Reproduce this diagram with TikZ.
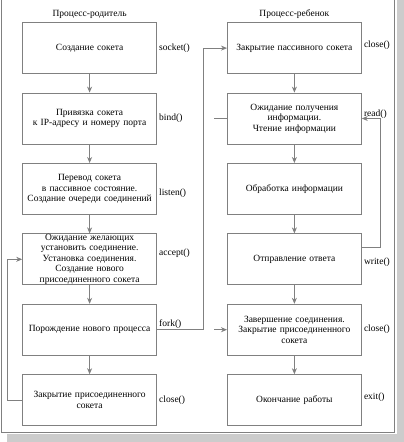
\documentclass[tikz,border=0pt]{standalone}
\usepackage{fontspec}
\setmainfont{Liberation Serif}
\usepackage{tikz}
\usetikzlibrary{positioning}
\usetikzlibrary{arrows.meta}
\usepackage{xcolor}
\definecolor{framegray}{gray}{0.5}
\definecolor{shadowgray}{gray}{0.8}

\begin{document}
\begin{tikzpicture}[x=1pt,y=-1pt,
        box/.style={draw=framegray,line width=.8pt,rectangle,minimum height=51pt,
            text width=128pt,inner xsep=3pt,inner ysep=0pt,align=center,
            font=\fontsize{9.5}{10.5}\selectfont},
        every label/.style={overlay,font=\fontsize{9.5}{10.5}\selectfont,inner sep=2pt},
        flow/.style={draw=framegray,line width=.8pt,-{Stealth[length=6pt,width=5pt]}}]
        \useasboundingbox (0,0) rectangle (404,442);
        % frame with shadow
        \fill[shadowgray] (7,-5) rectangle (404,442);
        \fill[white] (0,-5) rectangle (396.5,434);
        \draw[framegray,line width=.8pt] (1.5,-5) rectangle (394,432);
        \matrix (steps) [row sep=18.6pt,column sep=70pt,inner sep=0pt,anchor=north west] at (22,22) {
        \node (sock) [box,
            label=right:socket()] {Создание сокета};
        &
        \node (closepass) [box,
            label={[yshift=3pt]right:close()}] {Закрытие пассивного сокета};
        \\
        \node (bind) [box,
            label=right:bind()] {Привязка сокета\\ к IP-адресу и номеру порта};
        &
        \node (wait) [box,
            label={[yshift=4pt]right:read()}] {Ожидание получения\\ информации.\\ Чтение информации};
        \\
        \node (listen) [box,
            label={[yshift=-4pt]right:listen()}] {Перевод сокета\\ в пассивное состояние.\\ Создание очереди соединений};
        &
        \node (handle) [box] {Обработка информации};
        \\
        \node (accept) [box,
            label={[yshift=6pt]right:accept()}] {Ожидание желающих\\ установить соединение.\\ Установка соединения.\\ Создание нового\\ присоединенного сокета};
        &
        \node (answer) [box,
            label={[yshift=-3pt]right:write()}] {Отправление ответа};
        \\
        \node (fork) [box,
            label={[yshift=6pt]right:fork()}] {Порождение нового процесса};
        &
        \node (finish) [box,
            label=right:close()] {Завершение соединения.\\ Закрытие присоединенного\\ сокета};
        \\
        \node (closeconn) [box,
            label=right:close()] {Закрытие присоединенного\\ сокета};
        &
        \node (quit) [box,
            label={[yshift=3pt]right:exit()}] {Окончание работы};
        \\
        };
        \node [above=0pt of sock, font=\fontsize{9.5}{10.5}\selectfont] {Процесс-родитель};
        \node [above=0pt of closepass, font=\fontsize{9.5}{10.5}\selectfont] {Процесс-ребенок};
        % parent
        \draw[flow] (sock) -- (bind);
        \draw[flow] (bind) -- (listen);
        \draw[flow] (listen) -- (accept);
        \draw[flow] (accept) -- (fork);
        \draw[flow] (fork) -- (closeconn);
        \draw[flow] (closeconn.west) -- ++(-15,0) |- (accept.west);
        \draw[flow] (fork.east) -- ++(46,0) |- (closepass.west);
        % child
        \draw[flow] (closepass) -- (wait);
        \draw[flow] (wait) -- (handle);
        \draw[flow] (handle) -- (answer);
        \draw[flow] (answer) -- (finish);
        \draw[flow] (finish) -- (quit);
        \draw[flow] ([yshift=12pt]answer.east) -- ++(19,0) |- (wait.east);
        \draw[framegray,line width=.8pt] (wait.west) -- ++(-13,0) coordinate (stub);
        \draw[flow] ([xshift=-13pt]finish.west) -- (finish.west);
    \end{tikzpicture}
\end{document}
